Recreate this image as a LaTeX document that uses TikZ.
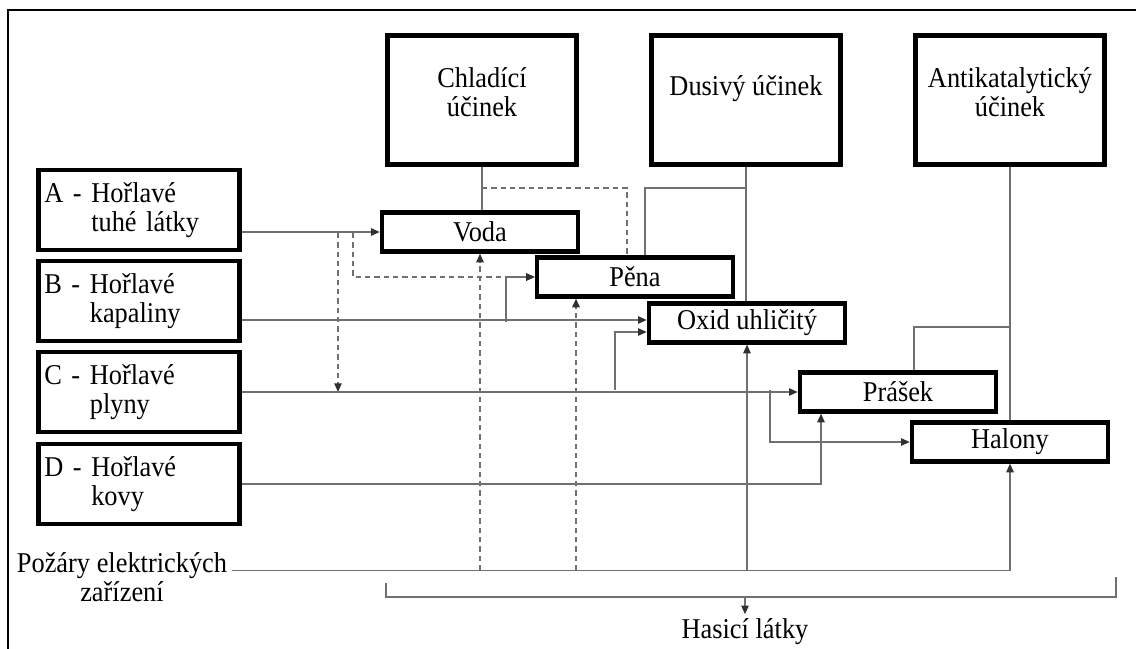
\documentclass[tikz,border=0pt]{standalone}
\usepackage{fontspec}
\setmainfont{Liberation Serif}[FakeStretch=0.92]
\usetikzlibrary{arrows.meta, positioning, calc}
\definecolor{lnGrey}{HTML}{707070}
\definecolor{tipGrey}{HTML}{303030}
\newcommand{\boxfont}{\fontsize{21.5}{22}\selectfont}
\tikzset{
  effectbox/.style = {draw, line width=3.4pt, minimum width=142pt,
                      minimum height=97pt, align=center, font=\boxfont},
  classbox/.style  = {draw, line width=3.4pt, minimum width=151pt,
                      minimum height=60pt, text width=142pt, inner sep=4.5pt,
                      align=left, font=\boxfont},
  agentbox/.style  = {draw, line width=3.4pt, minimum width=147pt,
                      minimum height=29pt, inner sep=0pt, font=\boxfont},
  conn/.style      = {lnGrey, line width=1.1pt},
  dconn/.style     = {conn, dash pattern=on 4pt off 3pt},
  arr/.style       = {conn, -{Triangle[length=6.5pt, width=5.5pt, color=tipGrey]}},
  lbl/.style       = {font=\boxfont, align=center},
}
\begin{document}
\begin{tikzpicture}[x=0.75pt, y=-0.75pt]
  \useasboundingbox (0,0) rectangle (1139,649);
  \draw[line width=1.5pt] (8,649) -- (8,10) -- (1136,10);

  % effects
  \node[effectbox] (cool)     at (482,100)  {Chladící\\účinek\\[-10pt]\mbox{}};
  \node[effectbox] (smother)  at (746,100)  {Dusivý účinek\\\mbox{}};
  \node[effectbox] (anticat)  at (1010,100) {Antikatalytický\\účinek\\[-10pt]\mbox{}};

  % fire classes
  \node[classbox] (clA) at (139,210) {A - Hořlavé\\\phantom{A - }tuhé látky};
  \node[classbox] (clB) at (139,301) {B - Hořlavé\\\phantom{B - }kapaliny};
  \node[classbox] (clC) at (139,392) {C - Hořlavé\\\phantom{C - }plyny};
  \node[classbox] (clD) at (139,484) {D - Hořlavé\\\phantom{D - }kovy};
  \node[lbl] (elec) at (122,577) {Požáry elektrických\\zařízení};

  % agents
  \node[agentbox] (water)  at (480,232)  {Voda};
  \node[agentbox] (foam)   at (635,277)  {Pěna};
  \node[agentbox] (co2)    at (747,323)  {Oxid uhličitý};
  \node[agentbox] (powder) at (898,392)  {Prášek};
  \node[agentbox] (halon)  at (1010,442) {Halony};
  \node[lbl] (agents) at (745,632) {Hasicí látky};

  \coordinate (aSplitC) at (338,233);
  \coordinate (aSplitF) at (353,233);
  \coordinate (bSplit)  at (506,322);
  \coordinate (cSplitO) at (615,390);
  \coordinate (cSplitH) at (770,390);
  \coordinate (effY)    at (0,188);
  \coordinate (antiY)   at (0,327);
  \coordinate (eLine)   at ([yshift=5pt]elec.east);
  \coordinate (co2B)    at ([yshift=2.25pt]co2.west);
  \coordinate (co2C)    at ([yshift=-6.75pt]co2.west);
  \coordinate (foamD)   at ([xshift=-6pt]foam.north);
  \coordinate (foamS)   at ([xshift=7.5pt]foam.north);
  \coordinate (foamE)   at ([xshift=-44.25pt]foam.south);
  \coordinate (powE)    at ([xshift=-57.75pt]powder.south);
  \coordinate (powA)    at ([xshift=12pt]powder.north);

  % effects to agents
  \draw[conn]  (cool.south) -- (cool.south |- water.north);
  \draw[conn]  (smother.south) -- (smother.south |- co2.north);
  \draw[conn]  (anticat.south) -- (anticat.south |- halon.north);
  \draw[dconn] (cool.south |- effY) -| (foamD);
  \draw[conn]  (smother.south |- effY) -| (foamS);
  \draw[conn]  (powA) |- (anticat.south |- antiY);

  % classes to agents
  \draw[arr] (clA.east |- water.west) -- (water.west);
  \draw[dconn, arr] (aSplitC) -- (aSplitC |- powder.west);
  \draw[dconn, arr] (aSplitF) |- (foam.west);
  \draw[arr] (clB.east |- co2B) -- (co2B);
  \draw[arr] (bSplit) |- (foam.west);
  \draw[arr] (clC.east |- powder.west) -- (powder.west);
  \draw[arr] (cSplitO) |- (co2C);
  \draw[arr] (cSplitH) |- (halon.west);
  \draw[arr] (clD.east) -| (powE);
  \draw[arr] (eLine) -| (halon.south);
  \draw[arr] (co2.south |- eLine) -- (co2.south);
  \draw[dconn, arr] (water.south |- eLine) -- (water.south);
  \draw[dconn, arr] (foamE |- eLine) -- (foamE);

  % bracket
  \coordinate (brL) at (386,583);
  \coordinate (brR) at (1116,577);
  \coordinate (brB) at (745,597);
  \draw[conn] (brL) |- (brB) -| (brR);
  \draw[arr] (brB) -- (agents.north);
\end{tikzpicture}
\end{document}
